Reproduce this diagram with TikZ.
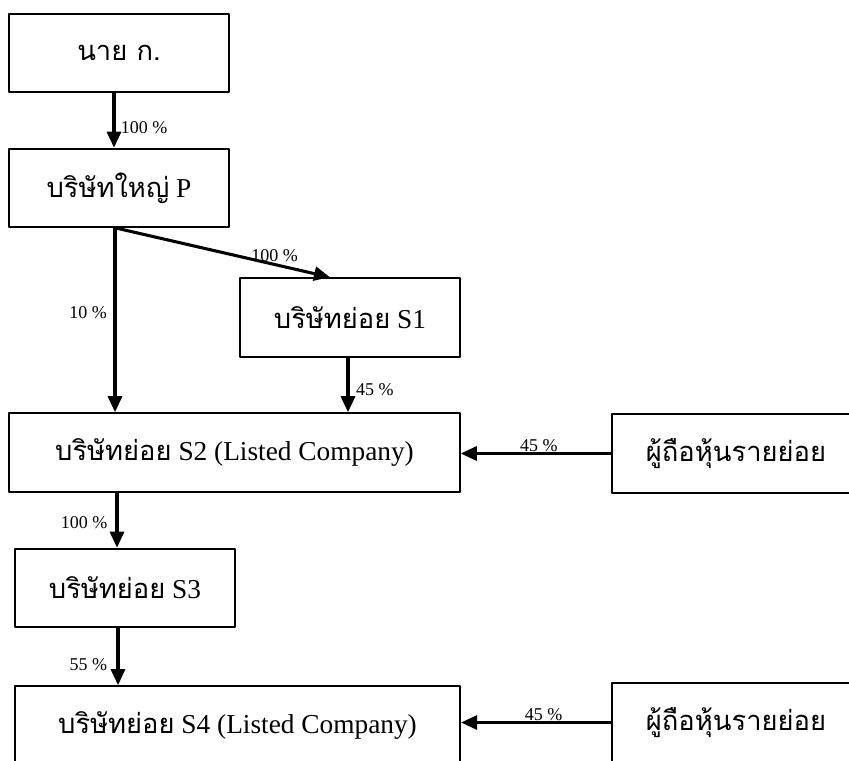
\documentclass[tikz,border=0pt]{standalone}
\usepackage{fontspec}
\setmainfont{Liberation Serif}
\newfontfamily\thaifont[Script=Thai]{Loma}
\usetikzlibrary{arrows.meta}

\begin{document}
\begin{tikzpicture}[line cap=round,line join=round,>={Triangle[length=12pt,width=10.5pt]},x=0.75pt,y=-0.75pt,
  box/.style={draw,line width=1.4pt,minimum height=59pt,inner sep=0pt,font=\fontsize{20.5}{24}\selectfont},
  pct/.style={font=\fontsize{13.5}{15}\selectfont,inner sep=2pt},
  link/.style={->,line width=2.3pt}]
\clip(0,0) rectangle (849,760);
\node[box,minimum width=165pt] (nai) at (119,53) {\thaifont นาย ก.};
\node[box,minimum width=165pt] (P) at (119,188) {\thaifont บริษัทใหญ่\normalfont{} P};
\node[box,minimum width=165pt] (S1) at (350,317.5) {\thaifont บริษัทย่อย\normalfont{} S1};
\node[box,minimum width=338pt] (S2) at (234.5,452.5) {\thaifont บริษัทย่อย\normalfont{} S2 (Listed Company)};
\node[box,minimum width=186pt] (SH1) at (736,453.5) {\thaifont ผู้ถือหุ้นรายย่อย};
\node[box,minimum width=165pt] (S3) at (125,588) {\thaifont บริษัทย่อย\normalfont{} S3};
\node[box,minimum width=334pt] (S4) at (237.5,725.5) {\thaifont บริษัทย่อย\normalfont{} S4 (Listed Company)};
\node[box,minimum width=186pt] (SH2) at (736,722.5) {\thaifont ผู้ถือหุ้นรายย่อย};
% shares held
\draw[link] ([xshift=-3.75pt]nai.south) -- ([xshift=-3.75pt]P.north) node[pct,pos=0.64,right,xshift=2pt] {100 \%};
\draw[link] ([xshift=-3pt]P.south) -- ([xshift=-3pt]P.south |- S2.north) node[pct,pos=0.46,left,xshift=-3pt] {10 \%};
\draw[link] ([xshift=-1.5pt]P.south) -- ([xshift=-15pt]S1.north) node[pct,pos=0.74,above,inner sep=1pt] {100 \%};
\draw[link] ([xshift=-1.5pt]S1.south) -- ([xshift=-1.5pt]S1.south |- S2.north) node[pct,pos=0.58,right,xshift=3pt] {45 \%};
\draw[link] (SH1.west) -- (SH1.west -| S2.east) node[pct,pos=0.48,above,inner sep=0.5pt] {45 \%};
\draw[link] ([xshift=-6pt]S3.north |- S2.south) -- ([xshift=-6pt]S3.north) node[pct,pos=0.54,left,xshift=-4pt] {100 \%};
\draw[link] ([xshift=-5.25pt]S3.south) -- ([xshift=-5.25pt]S3.south |- S4.north) node[pct,pos=0.64,left,xshift=-5pt] {55 \%};
\draw[link] (SH2.west) -- (SH2.west -| S4.east) node[pct,pos=0.45,above,inner sep=0.5pt] {45 \%};
\end{tikzpicture}
\end{document}
